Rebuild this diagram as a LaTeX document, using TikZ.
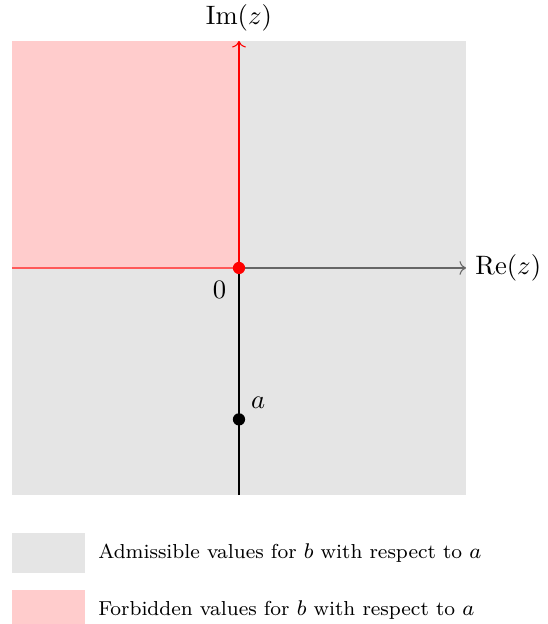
\documentclass[tikz,border=0pt]{standalone}
\usepackage{amsmath,amssymb}
\usepackage{xcolor}
\usetikzlibrary{arrows.meta,positioning}
\definecolor{cAdm}{HTML}{e5e5e5}
\definecolor{cFor}{HTML}{ffcccc}
\tikzset{
  dot/.style={circle,fill=black,inner sep=0pt,minimum size=4.6pt},
  rdot/.style={circle,fill=red,inner sep=0pt,minimum size=4.6pt},
  axis/.style={->,thin},
  swatch/.style={rectangle,inner sep=0pt,minimum width=0.96cm,minimum height=0.52cm},
  legtext/.style={anchor=west,font=\fontsize{7.6}{9}\selectfont,inner sep=0pt},
}

\begin{document}
\begin{tikzpicture}
  \useasboundingbox (-3.157,-4.703) rectangle (4.069,3.540);
  % regions
  \fill[cAdm] (-3,-3) rectangle (3,3);
  \fill[cFor] (-3,0) rectangle (0,3);
  \coordinate (xl) at (-3,0);
  \coordinate (xr) at (3,0);
  \coordinate (yb) at (0,-3);
  \coordinate (yt) at (0,3);
  \coordinate (o) at (0,0);
  % axes
  \draw[black!60,thin] (o) edge[->] (xr);
  \draw[red!65,thin] (xl) -- (o);
  \draw[black,thin] (yb) -- (o);
  \draw[red,thin,->] (o) -- (yt);
  \node[right] at (xr) {$\mathrm{Re}(z)$};
  \node[above] at (yt) {$\mathrm{Im}(z)$};
  \node[rdot] (zero) at (o) {};
  \node[below left=0.04cm and 0.03cm of zero,inner sep=2pt] {$0$};
  \node[dot] (pa) at (0,-2) {};
  \node[above right=0pt and 0.02cm of pa,inner sep=2pt] {$a$};
  % legend
  \node[swatch,fill=cAdm,anchor=north west] (sA) at (-3,-3.5) {};
  \node[legtext,right=0.16cm of sA] {Admissible values for $b$ with respect to $a$};
  \node[swatch,fill=cFor,anchor=north west] (sF) at (-3,-4.25) {};
  \node[legtext,right=0.16cm of sF] {Forbidden values for $b$ with respect to $a$};
\end{tikzpicture}
\end{document}
